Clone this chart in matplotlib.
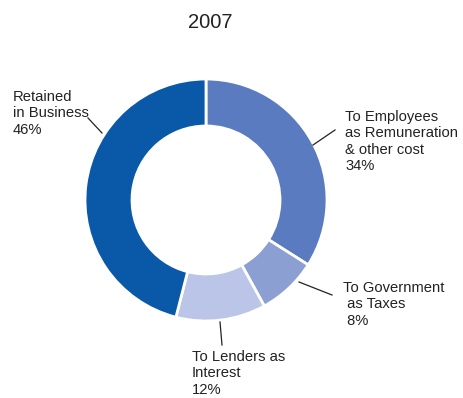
import matplotlib as mpl
mpl.use('agg')
import matplotlib.pyplot as plt

plt.rcParams['font.family'] = ['Liberation Sans', 'DejaVu Sans']

labels = ["To Employees\nas Remuneration\n& other cost\n34%",
          "To Government\n as Taxes\n 8%",
          "To Lenders as\nInterest\n12%",
          "Retained\nin Business\n46%"]
shares = [34, 8, 12, 46]
colors = ['#5a7bc0', '#8b9fd3', '#bac5e8', '#0a58a8']

W, H = 463, 398
fig = plt.figure(figsize=(W / 100, H / 100), dpi=100)
ax = fig.add_axes([0, 0, 1, 1])

cx, cy, r = 206, H - 200, 121
ax.pie(shares, colors=colors, startangle=90, counterclock=False,
       center=(cx, cy), radius=r, frame=True,
       wedgeprops=dict(width=47, edgecolor='white', linewidth=2))
ax.set_xlim(0, W)
ax.set_ylim(0, H)
ax.set_aspect('equal')
ax.axis('off')

ax.text(210, H - 23, "2007", ha='center', va='center', fontsize=14.5, color='#222222')

# label positions (text anchor) and leader lines, in pixels from top-left
txt_pos = [(345, 110), (343, 281), (192, 350), (13, 90)]
leaders = [((335, 130), (313, 145)),
           ((332, 295), (299, 282)),
           ((222, 345), (220, 322)),
           ((88, 118), (102, 133))]
for lab, (tx, ty), (p0, p1) in zip(labels, txt_pos, leaders):
    ax.text(tx, H - ty, lab, ha='left', va='top', fontsize=10.6,
            color='#222222', linespacing=1.22)
    ax.plot([p0[0], p1[0]], [H - p0[1], H - p1[1]], color='#222222', lw=0.9)

fig.savefig("out.png", dpi=100)
